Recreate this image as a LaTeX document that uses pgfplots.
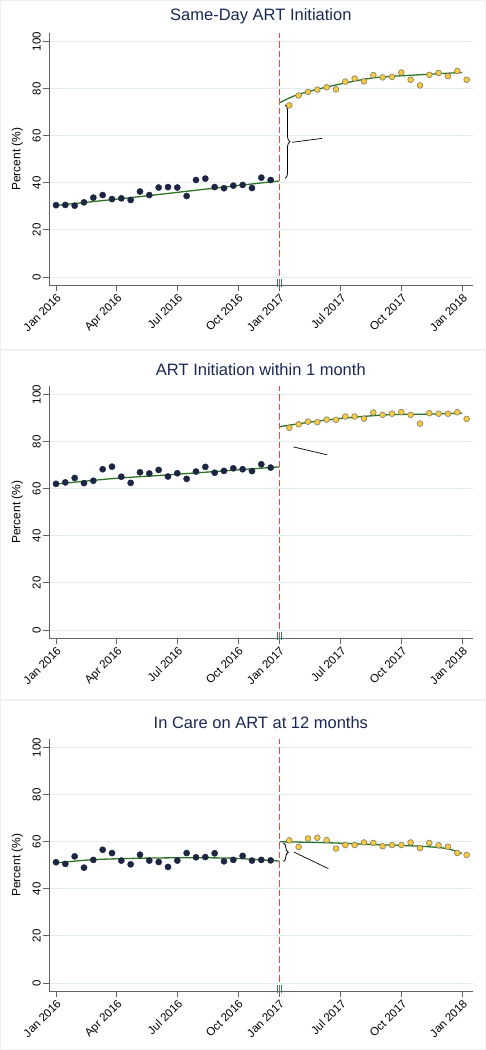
\documentclass[border=0pt]{standalone}
\usepackage{fontspec}
\setmainfont{Liberation Sans}
\usepackage{pgfplots}
\pgfplotsset{compat=1.18}
\usetikzlibrary{decorations.pathreplacing}
\definecolor{navydot}{RGB}{28,37,66}
\definecolor{yeldot}{RGB}{248,202,64}
\definecolor{yeledge}{RGB}{130,125,105}
\definecolor{fitgreen}{RGB}{45,115,35}
\definecolor{cutred}{RGB}{238,70,60}
\definecolor{titlenavy}{RGB}{26,40,84}
\definecolor{gridc}{RGB}{228,238,240}
\definecolor{axisc}{RGB}{100,100,100}
\definecolor{breakc}{RGB}{30,130,110}
\pgfplotsset{
 panel/.style={
  scale only axis, width=423.7pt, height=251.8pt,
  xmin=-0.75, xmax=44.65, ymin=-3.5, ymax=103.5,
  axis x line*=bottom, axis y line*=left,
  axis line style={axisc, line width=0.8pt, -},
  every outer x axis line/.append style={-},
  every outer y axis line/.append style={-},
  xtick={0,6.5,13,19.5,23.93,30.5,37.04,43.54},
  xticklabels={Jan 2016,Apr 2016,Jul 2016,Oct 2016,Jan 2017,Jul 2017,Oct 2017,Jan 2018},
  ytick={0,20,40,60,80,100},
  ymajorgrids, grid style={gridc, line width=0.8pt},
  tick align=outside, major tick length=6pt,
  tick style={axisc, line width=0.8pt},
  ticklabel style={font=\fontsize{11.5}{12}\selectfont},
  xticklabel style={rotate=45, anchor=north east, inner sep=1pt},
  yticklabel style={rotate=90, anchor=south, inner sep=2pt},
  /pgf/number format/assume math mode=true,
  ylabel={Percent (\%)},
  ylabel style={font=\fontsize{12}{13}\selectfont, at={(axis description cs:-0.0748,0.5)}, anchor=center},
  title style={font=\fontsize{16.5}{18}\selectfont, color=titlenavy, at={(axis description cs:0.5,1.044)}, anchor=center},
  clip=false,
 },
 navy/.style={only marks, mark=*, mark size=3.1pt, mark options={fill=navydot, draw=navydot}},
 yel/.style={only marks, mark=*, mark size=2.9pt, mark options={fill=yeldot, draw=yeledge, line width=0.6pt}},
 fitline/.style={draw=fitgreen, line width=1.3pt, smooth, mark=none},
}
\newcommand{\breakmarks}{%
 \draw[breakc, line width=1.1pt] (axis cs:23.71,-4.2) -- (axis cs:23.71,-0.9);
 \draw[breakc, line width=1.1pt] (axis cs:24.18,-4.2) -- (axis cs:24.18,-0.9);
 \draw[cutred, line width=1.5pt, dash pattern=on 6.5pt off 3pt] (axis cs:23.93,-3.5) -- (axis cs:23.93,103.5);
}
\begin{document}
\begin{tikzpicture}
\useasboundingbox (0,0) rectangle (486pt,1050pt);
\draw[gray!12, line width=0.6pt] (0.5pt,700.5pt) rectangle (485.5pt,1049.5pt);
\draw[gray!12, line width=0.6pt] (0.5pt,350.5pt) rectangle (485.5pt,699.5pt);
\draw[gray!12, line width=0.6pt] (0.5pt,0.5pt) rectangle (485.5pt,349.5pt);

% Panel 1
\begin{axis}[panel, title={Same-Day ART Initiation}, at={(49pt,764.8pt)}, anchor=south west]
\addplot[fitline] coordinates {(0,30.4) (8,33.7) (16,37.3) (23.93,40.8)};
\addplot[fitline] coordinates {(24,74.1) (26,77.6) (30,81.6) (34,84.6) (38,85.7) (43.5,86.9)};
\addplot[navy] coordinates {
(0,30.5) (1,30.6) (2,30.3) (3,31.7) (4,33.7) (5,34.8) (6,33.1) (7,33.4)
(8,32.7) (9,36.3) (10,34.8) (11,38.0) (12,38.2) (13,38.0) (14,34.4) (15,41.2)
(16,41.8) (17,38.2) (18,37.7) (19,38.8) (20,39.1) (21,37.8) (22,42.2) (23,41.2)};
\addplot[yel] coordinates {
(25,72.9) (26,77.1) (27,78.6) (28,79.6) (29,80.6) (30,79.7) (31,83.0) (32,84.3)
(33,83.1) (34,85.8) (35,84.8) (36,85.0) (37,86.9) (38,83.8) (39,81.4) (40,85.9)
(41,86.7) (42,85.3) (43,87.5) (44,83.8)};
\draw[black, line width=0.8pt, decorate, decoration={brace, amplitude=5pt}] (axis cs:24.54,73.1) -- (axis cs:24.54,41.9);
\draw[black, line width=0.7pt] (axis cs:25.27,57.2) -- (axis cs:28.53,58.9);
\breakmarks
\end{axis}

% Panel 2
\begin{axis}[panel, title={ART Initiation within 1 month}, at={(49pt,411.8pt)}, anchor=south west]
\addplot[fitline] coordinates {(0,62.0) (6,64.3) (12,65.9) (18,67.6) (23.93,69.3)};
\addplot[fitline] coordinates {(24,86.4) (27.9,88.7) (31.9,90.4) (35.9,91.5) (39.9,91.7) (43.5,92.1)};
\addplot[navy] coordinates {
(0,62.1) (1,62.7) (2,64.6) (3,62.4) (4,63.4) (5,68.3) (6,69.4) (7,65.1)
(8,62.5) (9,67.0) (10,66.5) (11,68.0) (12,65.2) (13,66.6) (14,64.2) (15,67.3)
(16,69.3) (17,66.8) (18,67.6) (19,68.7) (20,68.3) (21,67.5) (22,70.4) (23,69.0)};
\addplot[yel] coordinates {
(25,85.9) (26,87.4) (27,88.5) (28,88.3) (29,89.4) (30,89.3) (31,90.7) (32,90.7)
(33,89.8) (34,92.4) (35,91.4) (36,91.9) (37,92.6) (38,91.4) (39,87.7) (40,92.1)
(41,91.9) (42,91.9) (43,92.5) (44,89.7)};
\draw[black, line width=0.7pt] (axis cs:25.43,77.8) -- (axis cs:29.07,74.4);
\breakmarks
\end{axis}

% Panel 3
\begin{axis}[panel, title={In Care on ART at 12 months}, at={(49pt,58.8pt)}, anchor=south west]
\addplot[fitline] coordinates {(0,51.0) (4,52.4) (9,53.0) (14,53.2) (19,53.0) (23.93,51.8)};
\addplot[fitline] coordinates {(24,60.0) (29,59.6) (33.6,58.9) (39,58.1) (41.9,57.1) (43.5,55.0)};
\addplot[navy] coordinates {
(0,51.3) (1,50.6) (2,53.8) (3,49.0) (4,52.3) (5,56.6) (6,55.2) (7,52.0)
(8,50.4) (9,54.5) (10,52.0) (11,51.4) (12,49.3) (13,52.0) (14,55.2) (15,53.4)
(16,53.5) (17,55.1) (18,51.7) (19,52.3) (20,54.0) (21,52.0) (22,52.3) (23,52.1)};
\addplot[yel] coordinates {
(25,60.6) (26,57.8) (27,61.4) (28,61.7) (29,60.7) (30,57.1) (31,58.6) (32,58.6)
(33,59.7) (34,59.5) (35,58.1) (36,58.6) (37,58.6) (38,59.7) (39,57.3) (40,59.5)
(41,58.5) (42,57.9) (43,55.2) (44,54.4)};
\draw[black, line width=0.8pt, decorate, decoration={brace, amplitude=5pt}] (axis cs:24.36,59.5) -- (axis cs:24.36,51.6);
\draw[black, line width=0.7pt] (axis cs:25.5,55.6) -- (axis cs:29.18,48.6);
\breakmarks
\end{axis}
\end{tikzpicture}
\end{document}
